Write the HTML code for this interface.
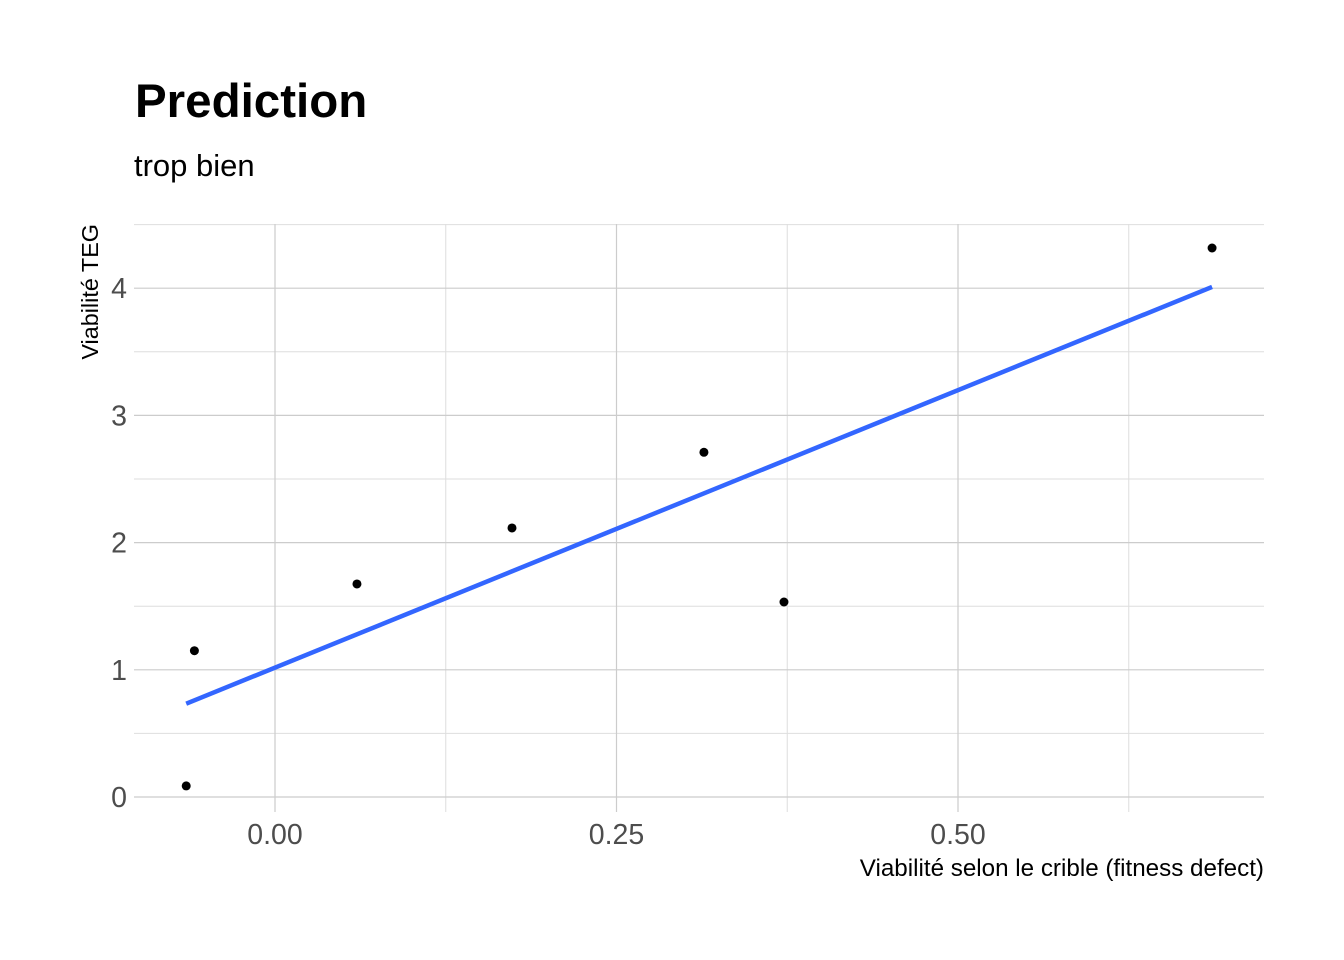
<!DOCTYPE html>
<html><head><meta charset="utf-8"><style>
body{margin:0;background:#fff;}
svg{display:block;font-family:"Liberation Sans",sans-serif;}
</style></head><body>
<svg id="chart" width="1344" height="960">
<text x="135" y="117" font-size="47.5" font-weight="bold" fill="#000">Prediction</text>
<text x="134" y="176" font-size="31" fill="#000">trop bien</text>
<g id="grid"></g>
<g id="line"></g>
<g id="pts"></g>
<g id="ticks"></g>
<text x="1264" y="876" font-size="24.2" text-anchor="end" fill="#000">Viabilité selon le crible (fitness defect)</text>
<text transform="translate(98,224) rotate(-90)" font-size="23.4" text-anchor="end" fill="#000">Viabilité TEG</text>
</svg>
<script>
const xVals=[-0.065,-0.059,0.060,0.1735,0.314,0.3726,0.686];
const yVals=[0.087,1.15,1.675,2.115,2.71,1.533,4.316];
const xTicks=[0,0.25,0.5];
const xTickLabels=["0.00","0.25","0.50"];
const yTicks=[0,1,2,3,4];
const yTickLabels=["0","1","2","3","4"];
const xMinor=[0.125,0.375,0.625];
const yMinor=[0.5,1.5,2.5,3.5,4.5];
const L=134,R=1264,T=224,B=812;
const sx=v=>275+v*1366;
const sy=v=>797-v*127.2;
const NS="http://www.w3.org/2000/svg";
function mk(tag,attrs,parent){const e=document.createElementNS(NS,tag);for(const k in attrs)e.setAttribute(k,attrs[k]);document.getElementById(parent).appendChild(e);return e;}
yMinor.forEach(v=>{const e=mk('line',{x1:L,x2:R,y1:sy(v),y2:sy(v),stroke:'#dedede','stroke-width':1},'grid');

});
xMinor.forEach(v=>{const e=mk('line',{x1:sx(v),x2:sx(v),y1:T,y2:B,stroke:'#dedede','stroke-width':1},'grid');

});
yTicks.forEach((v,i)=>{const e=mk('line',{x1:L,x2:R,y1:sy(v),y2:sy(v),stroke:'#cccccc','stroke-width':1.2},'grid');


const t=mk('text',{x:127,y:sy(v)+10,'font-size':28.5,'text-anchor':'end',fill:'#4d4d4d'},'ticks');t.textContent=yTickLabels[i];

});
xTicks.forEach((v,i)=>{const e=mk('line',{x1:sx(v),x2:sx(v),y1:T,y2:B,stroke:'#cccccc','stroke-width':1.2},'grid');


const t=mk('text',{x:sx(v),y:844,'font-size':28.5,'text-anchor':'middle',fill:'#4d4d4d'},'ticks');t.textContent=xTickLabels[i];

});
const n=xVals.length,mx=xVals.reduce((a,b)=>a+b)/n,my=yVals.reduce((a,b)=>a+b)/n;
let sxy=0,sxx=0;for(let i=0;i<n;i++){sxy+=(xVals[i]-mx)*(yVals[i]-my);sxx+=(xVals[i]-mx)**2;}
const b=sxy/sxx,a=my-b*mx;const x0=Math.min(...xVals),x1=Math.max(...xVals);
const ln=mk('line',{x1:sx(x0),y1:sy(a+b*x0),x2:sx(x1),y2:sy(a+b*x1),stroke:'#3366ff','stroke-width':4.5},'line');


xVals.forEach((v,i)=>{const c=mk('circle',{cx:sx(v),cy:sy(yVals[i]),r:4.5,fill:'#000'},'pts');

});
</script>
</body></html>
